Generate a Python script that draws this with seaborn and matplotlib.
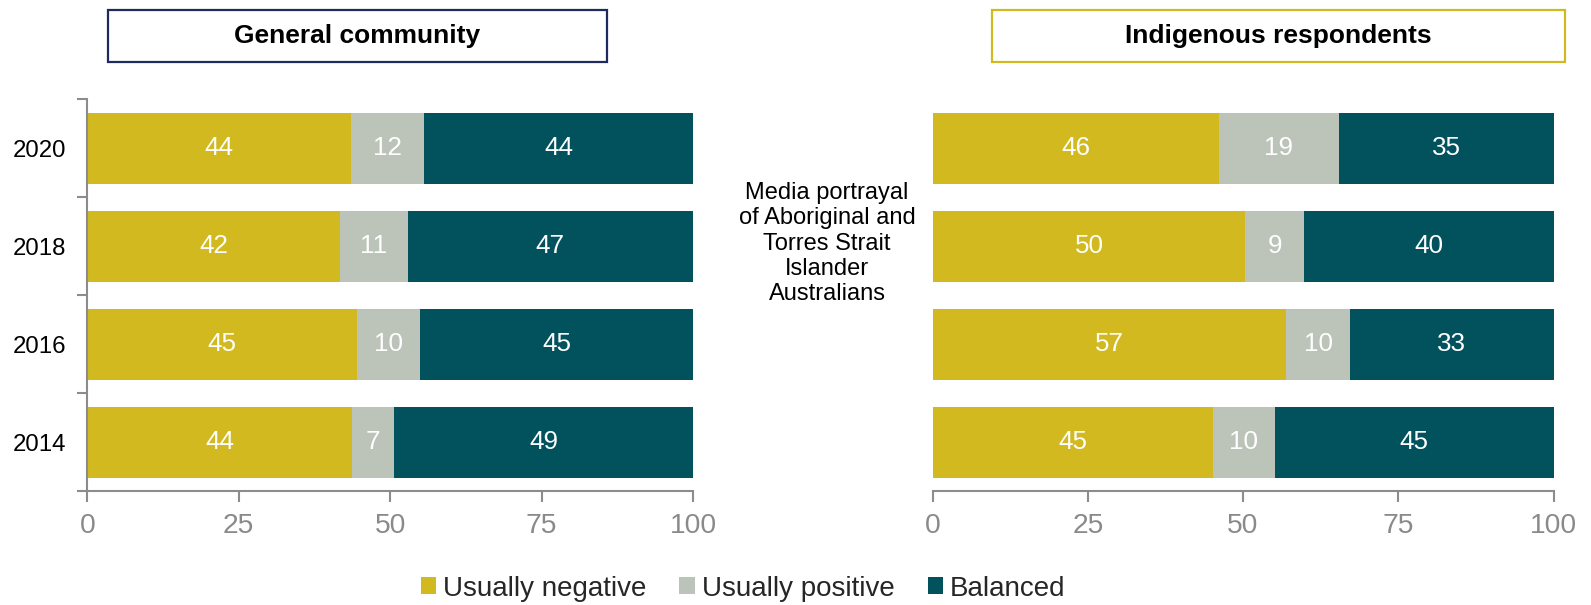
import numpy as np
import pandas as pd
import matplotlib
matplotlib.use("Agg")
import matplotlib.pyplot as plt
import seaborn as sns
from matplotlib import font_manager as fm
from matplotlib.patches import Rectangle, Patch

# ---------------- data ----------------
years = ["2020", "2018", "2016", "2014"]
series = ["Usually negative", "Usually positive", "Balanced"]

gc_negative = [43.6, 41.7, 44.6, 43.7]
gc_positive = [12.0, 11.2, 10.3, 6.9]
gc_balanced = [44.4, 47.1, 45.1, 49.4]

ind_negative = [46.1, 50.4, 57.0, 45.1]
ind_positive = [19.3, 9.4, 10.2, 10.0]
ind_balanced = [34.6, 40.2, 32.8, 44.9]

panel_titles = ["General community", "Indigenous respondents"]
centre_text = "Media portrayal\nof Aboriginal and\nTorres Strait\nIslander\nAustralians"
x_ticks = [0, 25, 50, 75, 100]

# ---------------- style ----------------
sns.set_theme(style="white")
names = {f.name for f in fm.fontManager.ttflist}
BASE = "Liberation Sans" if "Liberation Sans" in names else ("Arimo" if "Arimo" in names else "DejaVu Sans")
plt.rcParams["font.family"] = [BASE, "DejaVu Sans"]

colors = ["#D1B91F", "#BCC4B9", "#02525E"]
spine_grey = "#8C8C8C"
tick_grey = "#8A8A8A"

W, H = 1591, 605
fig = plt.figure(figsize=(W / 100, H / 100), dpi=100)

ax_bottom = 1 - 491 / H
ax_h = (491 - 99.4) / H
ax_left = fig.add_axes([87.3 / W, ax_bottom, (693 - 87.3) / W, ax_h])
ax_right = fig.add_axes([932.5 / W, ax_bottom, (1553.5 - 932.5) / W, ax_h])


def draw_panel(ax, neg, pos, bal, show_years):
    df = pd.DataFrame({"year": years, "neg": neg, "pos": pos, "bal": bal})
    df["c1"] = df["neg"]
    df["c2"] = df["neg"] + df["pos"]
    df["c3"] = df["neg"] + df["pos"] + df["bal"]
    # draw cumulative totals back to front
    for col, c in zip(["c3", "c2", "c1"], colors[::-1]):
        sns.barplot(data=df, x=col, y="year", order=years, orient="h",
                    color=c, width=0.725, saturation=1, ax=ax,
                    edgecolor="none", linewidth=0)
    # segment labels
    for i, row in df.iterrows():
        starts = [0, row["c1"], row["c2"]]
        vals = [row["neg"], row["pos"], row["bal"]]
        for s, v in zip(starts, vals):
            ax.text(s + v / 2, i, f"{v:.0f}", ha="center", va="center",
                    color="white", fontsize=18.7)
    ax.set_xlim(0, 100)
    ax.set_ylim(3.5, -0.5)
    ax.set_xlabel("")
    ax.set_ylabel("")
    ax.set_xticks(x_ticks)
    ax.set_xticklabels([str(t) for t in x_ticks], fontsize=20.3, color=tick_grey)
    ax.tick_params(axis="x", which="major", direction="out", length=8,
                   width=1.5, color=spine_grey, bottom=True, pad=8)
    for side in ["top", "right"]:
        ax.spines[side].set_visible(False)
    ax.spines["bottom"].set_color(spine_grey)
    ax.spines["bottom"].set_linewidth(1.5)
    if show_years:
        ax.spines["left"].set_color(spine_grey)
        ax.spines["left"].set_linewidth(1.5)
        ax.set_yticks(range(len(years)))
        ax.set_yticklabels(years, fontsize=17.3, color="black")
        ax.set_yticks(np.arange(-0.5, len(years), 1.0), minor=True)
        ax.tick_params(axis="y", which="major", length=0, pad=15.5)
        ax.tick_params(axis="y", which="minor", direction="out", length=7,
                       width=1.5, color=spine_grey, left=True)
    else:
        ax.spines["left"].set_visible(False)
        ax.set_yticks([])


draw_panel(ax_left, gc_negative, gc_positive, gc_balanced, True)
draw_panel(ax_right, ind_negative, ind_positive, ind_balanced, False)

# ---------------- title boxes ----------------
boxes = [(107.6, 606.8, "#1F2B5E"), (992.4, 1564.7, "#D1B91F")]
for (x0, x1, ec), title in zip(boxes, panel_titles):
    y0, y1 = 10.1, 62.0
    fig.patches.append(Rectangle((x0 / W, 1 - y1 / H), (x1 - x0) / W, (y1 - y0) / H,
                                 transform=fig.transFigure, facecolor="white",
                                 edgecolor=ec, linewidth=1.6))
    fig.text((x0 + x1) / 2 / W, 1 - (y0 + y1) / 2 / H, title, ha="center",
             va="center", fontsize=19, fontweight="bold", color="black")

# ---------------- centre text ----------------
fig.text(827 / W, 1 - 243.5 / H, centre_text, ha="center", va="center",
         fontsize=17, linespacing=1.2, color="black")

# ---------------- legend ----------------
handles = [Patch(facecolor=c, edgecolor="none") for c in colors]
fig.legend(handles, series, loc="center", bbox_to_anchor=(743 / W, 1 - 588.5 / H),
           ncol=3, frameon=False, fontsize=20, handlelength=0.55, handleheight=0.55,
           handletextpad=0.25, columnspacing=1.2)

fig.savefig("out.png", dpi=100)
